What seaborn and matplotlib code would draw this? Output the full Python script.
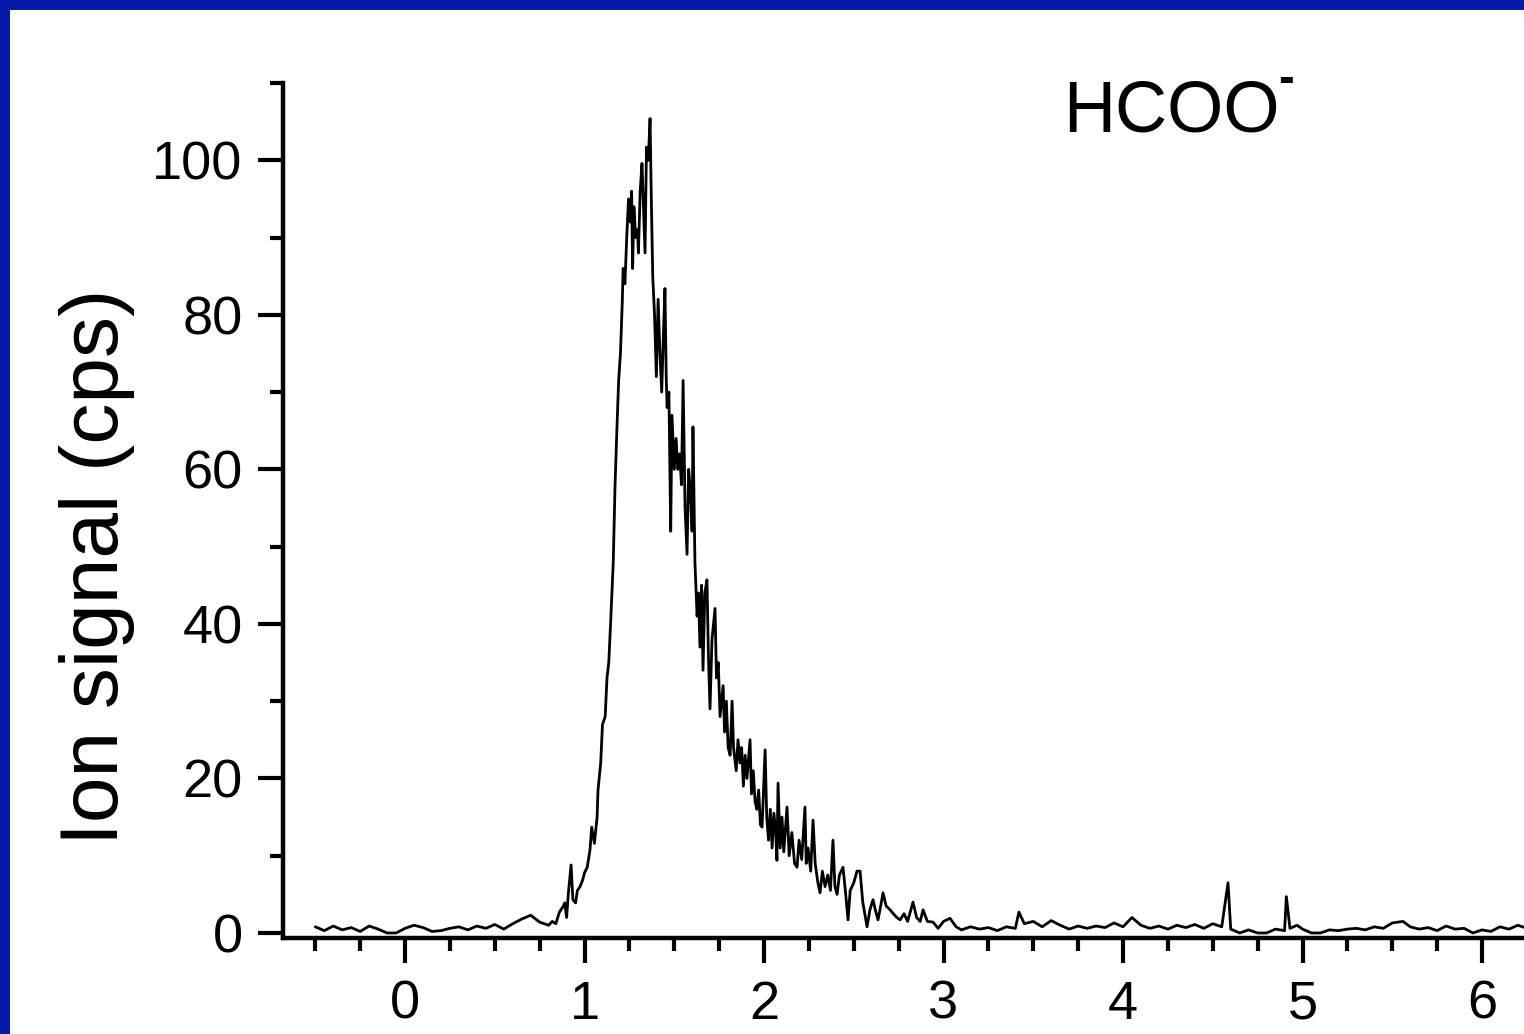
import matplotlib
matplotlib.use("Agg")
import matplotlib.pyplot as plt
from matplotlib.patches import Rectangle
from matplotlib.ticker import MultipleLocator
import seaborn as sns
import pandas as pd

# Time-of-flight trace of the HCOO- ion signal
time = [
    -0.50, -0.45, -0.40, -0.35, -0.30, -0.25, -0.20, -0.15, -0.10, -0.05,
    0.00, 0.05, 0.10, 0.15, 0.20, 0.25, 0.30, 0.35, 0.40, 0.45,
    0.50, 0.55, 0.60, 0.65, 0.70, 0.75, 0.80,
    0.82, 0.84, 0.86, 0.88, 0.89, 0.90, 0.91, 0.925, 0.935, 0.95,
    0.96, 0.975, 0.99, 1.00, 1.015, 1.03, 1.04, 1.055, 1.07, 1.075,
    1.09, 1.10, 1.115, 1.125, 1.135, 1.145, 1.16, 1.17, 1.18, 1.19,
    1.20, 1.21, 1.215, 1.225, 1.235, 1.245, 1.255, 1.262, 1.268, 1.275,
    1.285, 1.295, 1.30, 1.31, 1.32, 1.33, 1.337, 1.345, 1.355, 1.365,
    1.372, 1.38, 1.39, 1.40, 1.41, 1.42, 1.43, 1.44, 1.448, 1.455,
    1.46, 1.47, 1.48, 1.487, 1.50, 1.51, 1.52, 1.53, 1.54, 1.549,
    1.56, 1.571, 1.58, 1.59, 1.599, 1.604, 1.615, 1.627, 1.635, 1.643,
    1.652, 1.66, 1.67, 1.682, 1.69, 1.699, 1.71, 1.727, 1.735, 1.745,
    1.755, 1.772, 1.78, 1.79, 1.80, 1.811, 1.822, 1.83, 1.845, 1.855,
    1.866, 1.875, 1.885, 1.895, 1.905, 1.922, 1.93, 1.94, 1.95, 1.96,
    1.97, 1.98, 1.989, 2.006, 2.015, 2.025, 2.035, 2.045, 2.055, 2.065,
    2.072, 2.078, 2.09, 2.10, 2.11, 2.128, 2.14, 2.155, 2.17, 2.184,
    2.195, 2.21, 2.228, 2.235, 2.245, 2.26, 2.273, 2.285, 2.30, 2.312,
    2.325, 2.34, 2.355, 2.37, 2.384, 2.395, 2.407, 2.42, 2.44, 2.455,
    2.468, 2.48, 2.50, 2.518, 2.535, 2.55, 2.574, 2.59, 2.607, 2.62,
    2.635, 2.65, 2.663, 2.68, 2.702, 2.72, 2.74, 2.758, 2.78, 2.80,
    2.83, 2.85, 2.87, 2.886, 2.91, 2.942, 2.97, 3.00, 3.036, 3.07,
    3.10, 3.15, 3.20, 3.25, 3.30, 3.35, 3.40, 3.42, 3.45, 3.50,
    3.55, 3.60, 3.65, 3.70, 3.75, 3.80, 3.85, 3.90, 3.95, 4.00,
    4.05, 4.10, 4.15, 4.20, 4.25, 4.30, 4.35, 4.40, 4.45, 4.50,
    4.55, 4.585, 4.60, 4.65, 4.70, 4.75, 4.80, 4.85, 4.90, 4.91,
    4.93, 4.97, 5.00, 5.05, 5.10, 5.15, 5.20, 5.25, 5.30, 5.35,
    5.40, 5.45, 5.50, 5.56, 5.60, 5.65, 5.70, 5.75, 5.80, 5.85,
    5.90, 5.95, 6.00, 6.05, 6.10, 6.15, 6.20, 6.25,
]
signal = [
    0.8, 0.3, 0.9, 0.4, 0.7, 0.2, 0.9, 0.5, 0.0, 0.0,
    0.6, 1.0, 0.7, 0.2, 0.3, 0.6, 0.8, 0.4, 0.9, 0.6,
    1.1, 0.5, 1.2, 1.8, 2.3, 1.4, 1.0,
    1.5, 1.2, 2.7, 3.4, 3.9, 2.0, 5.2, 8.8, 4.3, 3.9,
    5.5, 6.0, 6.9, 7.8, 8.5, 10.7, 13.7, 11.6, 15.0, 18.5,
    22.0, 27.0, 28.0, 33.0, 35.0, 40.0, 48.0, 58.0, 65.0, 71.5,
    75.0, 81.5, 86.0, 84.0, 90.0, 95.0, 92.0, 96.0, 86.0, 94.0,
    90.0, 91.0, 88.0, 96.0, 99.6, 93.0, 88.0, 101.7, 100.0, 105.4,
    95.0, 85.0, 80.0, 72.0, 82.0, 75.0, 70.0, 78.0, 83.4, 72.0,
    68.0, 70.0, 52.0, 67.0, 60.0, 64.0, 60.0, 62.0, 58.0, 71.5,
    55.0, 49.0, 60.0, 57.0, 52.0, 65.5, 48.0, 41.0, 44.0, 37.0,
    45.0, 34.0, 44.0, 45.7, 36.0, 29.0, 38.0, 42.0, 33.0, 35.0,
    28.0, 32.0, 26.0, 30.0, 24.0, 23.0, 30.0, 24.0, 21.0, 25.0,
    22.0, 24.0, 19.0, 23.0, 20.0, 25.0, 18.0, 21.0, 17.0, 16.0,
    18.5, 14.0, 13.7, 23.7, 15.0, 12.0, 16.0, 11.0, 15.5, 13.0,
    9.4, 19.4, 11.0, 15.0, 10.5, 16.3, 10.0, 13.0, 9.0, 8.5,
    12.0, 9.5, 16.3, 9.0, 11.0, 8.0, 14.6, 9.0, 6.5, 5.2,
    8.0, 6.0, 7.5, 5.5, 12.0, 6.0, 5.0, 7.5, 8.5, 5.0,
    1.7, 5.5, 6.5, 8.0, 8.0, 4.0, 0.8, 3.0, 4.3, 3.0,
    1.7, 3.5, 5.2, 3.5, 3.0, 2.5, 2.0, 1.7, 2.5, 1.5,
    4.0, 2.0, 1.5, 3.0, 1.5, 1.4, 0.6, 1.5, 1.9, 0.8,
    0.4, 0.8, 0.5, 0.7, 0.3, 0.8, 0.6, 2.7, 1.2, 1.5,
    0.8, 1.6, 1.0, 0.5, 0.9, 0.6, 0.9, 0.7, 1.3, 0.8,
    2.0, 1.0, 0.6, 0.9, 0.5, 1.0, 0.7, 1.1, 0.6, 1.2,
    0.8, 6.5, 0.5, 0.0, 0.4, 0.0, 0.0, 0.5, 0.3, 4.7,
    0.6, 1.0, 0.5, 0.0, 0.0, 0.4, 0.3, 0.5, 0.6, 0.4,
    0.8, 0.6, 1.3, 1.5, 0.8, 0.5, 0.7, 0.3, 0.9, 0.5,
    0.6, 0.0, 0.4, 0.2, 0.8, 0.5, 1.0, 0.6,
]
x_ticks = [0, 1, 2, 3, 4, 5, 6]
y_ticks = [0, 20, 40, 60, 80, 100]
y_label = "Ion signal (cps)"
species = "HCOO"

sns.set_theme(style="ticks")
plt.rcParams["font.family"] = ["Liberation Sans", "DejaVu Sans"]

BLUE = "#041aa8"
fig = plt.figure(figsize=(15.24, 10.34), dpi=100, facecolor=BLUE)
# white slide panel inside the blue frame
fig.add_artist(Rectangle((10 / 1524, 0), 1.0, 1 - 10 / 1034,
                         transform=fig.transFigure, facecolor="white",
                         edgecolor="none", zorder=0))

ax = fig.add_axes([283 / 1524, 1 - 938 / 1034, 1 - 283 / 1524, (938 - 83) / 1034])
ax.set_facecolor("none")

df = pd.DataFrame({"time": time, "signal": signal})
sns.lineplot(data=df, x="time", y="signal", ax=ax, color="black",
             linewidth=2.0, estimator=None)

ax.set_xlim(-0.68, 6.234)
ax.set_ylim(-0.65, 110)
ax.set_xticks(x_ticks)
ax.set_yticks(y_ticks)
ax.xaxis.set_minor_locator(MultipleLocator(0.25))
ax.yaxis.set_minor_locator(MultipleLocator(10))

for side in ("top", "right"):
    ax.spines[side].set_visible(False)
for side in ("left", "bottom"):
    ax.spines[side].set_linewidth(3.2)
    ax.spines[side].set_color("black")

ax.tick_params(which="major", direction="out", length=18, width=3.0,
               color="black", labelsize=39, labelcolor="black")
ax.tick_params(axis="y", which="major", pad=11)
ax.tick_params(axis="x", which="major", pad=12)
ax.tick_params(which="minor", direction="out", length=9.5, width=3.0, color="black")

ax.set_xlabel("")
ax.set_ylabel(y_label, fontsize=59, color="black")
ax.yaxis.set_label_coords(-0.150, 0.434)
ax.yaxis.label.set_va("center")

ax.text(0.6285, 0.9427, species, transform=ax.transAxes, fontsize=52,
        ha="left", va="baseline", color="black")
ax.text(0.8018, 0.9895, "-", transform=ax.transAxes, fontsize=34,
        ha="left", va="baseline", color="black", fontweight="bold")

fig.savefig("out.png", dpi=100, facecolor=BLUE)
